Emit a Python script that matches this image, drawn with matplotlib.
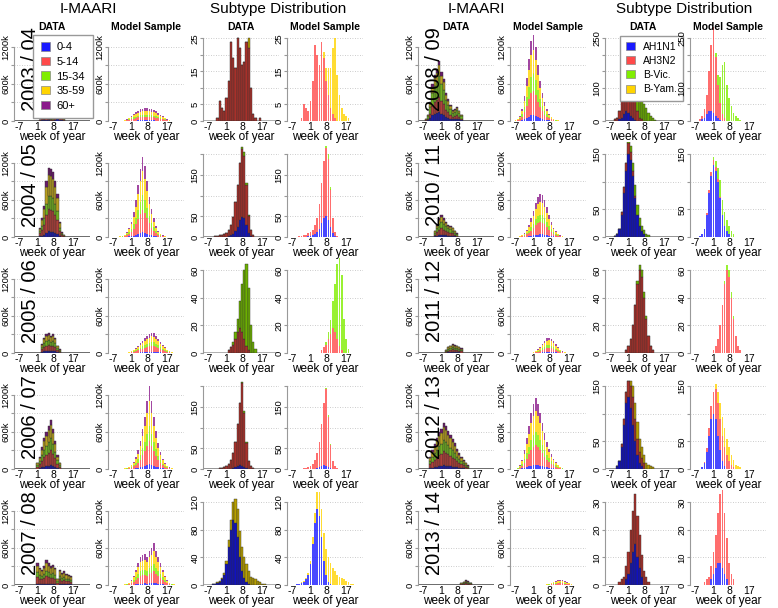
import numpy as np
import matplotlib.pyplot as plt

plt.rcParams['font.family'] = ['Liberation Sans', 'DejaVu Sans']

# ---------------------------------------------------------------- data
seasons_left = ['2003 / 04', '2004 / 05', '2005 / 06', '2006 / 07', '2007 / 08']
seasons_right = ['2008 / 09', '2010 / 11', '2011 / 12', '2012 / 13', '2013 / 14']
age_groups = ['0-4', '5-14', '15-34', '35-59', '60+']
subtypes = ['AH1N1', 'AH3N2', 'B-Vic.', 'B-Yam.']
week_ticks = [-7, 1, 8, 17]

# I-MAARI weekly totals in thousands: (first week, values)
imaari_data = {
    '2003 / 04': (2, [20, 90, 60, 110, 80, 40, 30, 150, 180, 140, 100, 30]),
    '2004 / 05': (2, [150, 300, 500, 900, 1120, 1100, 1050, 900, 700, 250, 80, 30]),
    '2005 / 06': (3, [150, 250, 300, 330, 280, 300, 250, 120, 60]),
    '2006 / 07': (1, [100, 200, 350, 500, 600, 700, 800, 650, 450, 220, 100]),
    '2007 / 08': (1, [350, 280, 250, 300, 400, 350, 300, 330, 280, 100, 250, 200, 220, 180, 170, 150]),
    '2008 / 09': (-6, [30, 100, 300, 600, 750, 850, 980, 800, 680, 450, 350, 260, 180, 200, 230, 170, 100]),
    '2010 / 11': (-2, [100, 200, 300, 350, 300, 250, 200, 180, 150, 100, 60]),
    '2011 / 12': (3, [50, 100, 120, 150, 130, 120, 100, 80]),
    '2012 / 13': (-4, [200, 300, 400, 500, 600, 650, 750, 700, 620, 550, 480, 420, 320, 260, 200, 150, 100, 60]),
    '2013 / 14': (10, [30, 50, 80, 60, 40]),
}
imaari_model = {
    '2003 / 04': (-3, [5, 15, 30, 55, 85, 115, 145, 170, 190, 200, 205, 205, 200, 190, 175, 155, 130, 105, 80, 55, 30, 15, 5]),
    '2004 / 05': (-5, [5, 10, 20, 40, 80, 150, 250, 400, 600, 850, 1100, 1300, 1150, 900, 650, 450, 300, 180, 100, 50, 25, 10]),
    '2005 / 06': (-1, [5, 15, 30, 50, 80, 120, 160, 200, 240, 270, 300, 330, 320, 280, 230, 180, 130, 90, 55, 30, 15, 5]),
    '2006 / 07': (-3, [5, 10, 20, 40, 70, 120, 200, 300, 450, 650, 850, 1100, 1350, 1100, 850, 620, 420, 280, 170, 100, 50, 25, 10]),
    '2007 / 08': (-3, [5, 10, 20, 40, 80, 150, 250, 350, 450, 480, 500, 450, 550, 600, 680, 550, 450, 350, 250, 150, 80, 40, 20, 10]),
    '2008 / 09': (-7, [10, 30, 80, 200, 400, 700, 1000, 1300, 1400, 1200, 900, 650, 450, 300, 200, 120, 70, 40, 20, 10]),
    '2010 / 11': (-5, [10, 30, 60, 120, 200, 300, 420, 550, 650, 700, 680, 600, 480, 350, 240, 150, 90, 50, 25, 10]),
    '2011 / 12': (0, [5, 15, 30, 60, 100, 150, 200, 240, 250, 230, 190, 140, 90, 50, 25, 10]),
    '2012 / 13': (-6, [20, 60, 150, 300, 500, 700, 900, 1050, 1150, 1050, 900, 750, 580, 440, 330, 240, 170, 110, 70, 40, 20]),
    '2013 / 14': (6, [5, 10, 20, 35, 50, 65, 75, 80, 75, 60, 45, 30, 15, 5]),
}
# share of each age group in the I-MAARI stacks
age_share_data = {
    '2003 / 04': [0.15, 0.35, 0.30, 0.15, 0.05],
    '2004 / 05': [0.08, 0.32, 0.20, 0.30, 0.10],
    '2005 / 06': [0.10, 0.30, 0.25, 0.25, 0.10],
    '2006 / 07': [0.08, 0.30, 0.25, 0.27, 0.10],
    '2007 / 08': [0.06, 0.30, 0.22, 0.32, 0.10],
    '2008 / 09': [0.15, 0.25, 0.35, 0.17, 0.08],
    '2010 / 11': [0.10, 0.30, 0.30, 0.22, 0.08],
    '2011 / 12': [0.10, 0.30, 0.25, 0.25, 0.10],
    '2012 / 13': [0.08, 0.30, 0.25, 0.27, 0.10],
    '2013 / 14': [0.10, 0.30, 0.25, 0.25, 0.10],
}
age_share_model = {
    '2003 / 04': [0.05, 0.30, 0.15, 0.30, 0.20],
    '2004 / 05': [0.06, 0.28, 0.18, 0.30, 0.18],
    '2005 / 06': [0.06, 0.30, 0.18, 0.28, 0.18],
    '2006 / 07': [0.06, 0.28, 0.18, 0.30, 0.18],
    '2007 / 08': [0.05, 0.28, 0.17, 0.32, 0.18],
    '2008 / 09': [0.07, 0.28, 0.20, 0.27, 0.18],
    '2010 / 11': [0.06, 0.28, 0.18, 0.30, 0.18],
    '2011 / 12': [0.06, 0.28, 0.18, 0.30, 0.18],
    '2012 / 13': [0.06, 0.28, 0.18, 0.30, 0.18],
    '2013 / 14': [0.06, 0.28, 0.18, 0.30, 0.18],
}

# subtype counts per week: {subtype: (first week, values)}
subtype_data = {
    '2003 / 04': {'AH3N2': (-3, [1, 6, 4, 3, 7, 12, 24, 19, 16, 25, 22, 17, 18, 24, 22, 10, 2, 1, 0, 1]),
                  'B-Yam.': (11, [3])},
    '2004 / 05': {'AH1N1': (2, [2, 4, 8, 15, 25, 40, 48, 45, 30, 10, 3]),
                  'AH3N2': (-6, [1, 1, 2, 3, 5, 6, 8, 10, 15, 25, 40, 70, 100, 140, 165, 150, 95, 40, 15, 5]),
                  'B-Vic.': (8, [5, 10, 5, 3])},
    '2005 / 06': {'AH3N2': (2, [2, 4, 6, 10, 15, 18, 15, 10, 5, 2]),
                  'B-Vic.': (4, [2, 5, 10, 20, 35, 50, 60, 45, 20, 8, 3])},
    '2006 / 07': {'AH1N1': (3, [1, 3, 5, 8, 10, 8, 5, 2]),
                  'AH3N2': (-3, [1, 2, 3, 5, 8, 12, 20, 35, 60, 100, 150, 200, 130, 60, 20, 8, 3]),
                  'B-Vic.': (8, [3, 5, 3])},
    '2007 / 08': {'AH1N1': (-5, [1, 2, 3, 5, 8, 15, 30, 55, 80, 95, 90, 70, 40, 20, 10, 5, 2]),
                  'B-Yam.': (-3, [1, 1, 2, 3, 5, 10, 15, 25, 35, 40, 38, 35, 30, 25, 18, 12, 10, 8, 6, 4, 2, 1])},
    '2008 / 09': {'AH1N1': (-3, [5, 10, 20, 30, 25, 15, 8, 3]),
                  'AH3N2': (-5, [5, 10, 25, 50, 100, 170, 210, 200, 150, 80, 30, 10, 5]),
                  'B-Vic.': (2, [10, 20, 40, 60, 80, 70, 50, 40, 25, 15, 8, 3])},
    '2010 / 11': {'AH1N1': (-5, [2, 5, 15, 40, 80, 120, 150, 140, 110, 70, 40, 20, 10, 5]),
                  'AH3N2': (-2, [5, 10, 15, 20, 15, 10, 5]),
                  'B-Vic.': (1, [5, 10, 15, 20, 18, 15, 10, 8, 5, 3])},
    '2011 / 12': {'AH3N2': (0, [2, 5, 10, 20, 35, 50, 60, 55, 40, 25, 12, 5, 2]),
                  'B-Vic.': (5, [2, 4, 5, 4, 2])},
    '2012 / 13': {'AH1N1': (-4, [5, 15, 40, 80, 120, 130, 110, 80, 50, 25, 10, 5]),
                  'AH3N2': (-2, [5, 10, 20, 30, 40, 50, 40, 30, 20, 15, 10]),
                  'B-Yam.': (2, [10, 20, 30, 30, 25, 20, 15, 10, 8, 5, 3])},
    '2013 / 14': {'AH1N1': (0, [2, 4, 8, 12, 15, 10, 6, 3]),
                  'AH3N2': (-3, [1, 2, 3, 5, 8, 12, 15, 18, 15, 12, 8, 5, 3, 1])},
}
subtype_model = {
    '2003 / 04': {'AH3N2': (-3, [1, 5, 4, 3, 6, 12, 23, 20, 17, 24, 19, 12, 8, 4, 2, 1]),
                  'B-Yam.': (7, [2, 4, 8, 12, 20, 24, 14, 8, 4, 2, 1.5, 1])},
    '2004 / 05': {'AH1N1': (0, [2, 3, 5, 8, 12, 20, 35, 45, 50, 40, 25, 10, 3]),
                  'AH3N2': (-6, [1, 1, 2, 3, 4, 6, 8, 10, 12, 20, 35, 60, 95, 140, 165, 150, 90, 35, 10, 3]),
                  'B-Vic.': (8, [5, 10, 5])},
    '2005 / 06': {'AH3N2': (6, [2, 4, 6, 10, 14, 18, 15, 10, 5, 2]),
                  'B-Vic.': (8, [2, 5, 10, 20, 35, 55, 70, 55, 25, 10, 3])},
    '2006 / 07': {'AH1N1': (3, [1, 3, 5, 8, 10, 8, 5, 2]),
                  'AH3N2': (-3, [1, 2, 3, 5, 8, 12, 20, 35, 60, 100, 150, 185, 120, 55, 20, 8, 3]),
                  'B-Vic.': (8, [3, 5, 3])},
    '2007 / 08': {'AH1N1': (-5, [1, 2, 3, 5, 8, 15, 30, 60, 90, 110, 100, 70, 35, 15, 5, 2]),
                  'B-Yam.': (-3, [1, 1, 2, 3, 5, 10, 15, 25, 35, 40, 40, 38, 35, 30, 25, 20, 15, 12, 10, 8, 6, 4, 2, 1])},
    '2008 / 09': {'AH1N1': (-4, [5, 10, 20, 30, 30, 25, 15, 8, 3]),
                  'AH3N2': (-5, [5, 10, 25, 60, 120, 200, 260, 180, 100, 50, 20, 8]),
                  'B-Vic.': (2, [10, 30, 80, 150, 170, 110, 70, 45, 25, 15, 8, 3])},
    '2010 / 11': {'AH1N1': (-5, [2, 5, 15, 40, 80, 110, 130, 120, 100, 70, 40, 20, 10, 5]),
                  'AH3N2': (-2, [3, 5, 8, 10, 8, 5, 3]),
                  'B-Vic.': (1, [5, 10, 20, 30, 28, 25, 20, 15, 10, 5])},
    '2011 / 12': {'AH3N2': (1, [2, 5, 10, 20, 35, 50, 60, 55, 40, 25, 12, 5, 2]),
                  'B-Vic.': (6, [2, 4, 5, 4, 2])},
    '2012 / 13': {'AH1N1': (-4, [3, 10, 30, 60, 90, 100, 90, 60, 35, 15, 5]),
                  'AH3N2': (-3, [3, 8, 15, 25, 40, 55, 60, 55, 45, 35, 25, 15, 8, 4]),
                  'B-Yam.': (2, [10, 20, 30, 35, 35, 30, 25, 18, 12, 8, 5, 3])},
    '2013 / 14': {'AH1N1': (0, [2, 4, 6, 8, 8, 6, 4, 2]),
                  'AH3N2': (-3, [1, 2, 3, 5, 8, 12, 18, 25, 30, 22, 15, 8, 4, 2])},
}
# y ticks of the subtype panels: (tick positions, labelled ticks)
subtype_ticks = {
    '2003 / 04': ([0, 5, 10, 15, 20, 25], [0, 5, 15, 25]),
    '2004 / 05': ([0, 50, 100, 150, 200], [0, 50, 150]),
    '2005 / 06': ([0, 20, 40, 60], [0, 20, 40, 60]),
    '2006 / 07': ([0, 50, 100, 150, 200], [0, 50, 150]),
    '2007 / 08': ([0, 40, 80, 120], [0, 40, 80, 120]),
    '2008 / 09': ([0, 50, 100, 150, 200, 250], [0, 100, 250]),
    '2010 / 11': ([0, 50, 100, 150], [0, 50, 150]),
    '2011 / 12': ([0, 20, 40, 60], [0, 20, 40, 60]),
    '2012 / 13': ([0, 50, 100, 150], [0, 50, 150]),
    '2013 / 14': ([0, 10, 20, 30], [0, 10, 20, 30]),
}
imaari_ticks = ([0, 300, 600, 900, 1200], [0, 600, 1200])

# ---------------------------------------------------------------- style
age_colors = ['#1a1aff', '#ff4a4a', '#80ee00', '#ffd400', '#8b1a8b']
age_colors_dark = ['#1a1ab0', '#b0403a', '#70b020', '#b8a020', '#6a1a6a']
sub_colors = {'AH1N1': '#1a1aff', 'AH3N2': '#ff4a4a', 'B-Vic.': '#80ee00', 'B-Yam.': '#ffd400'}
sub_colors_dark = {'AH1N1': '#1010c0', 'AH3N2': '#a8302a', 'B-Vic.': '#6cb000', 'B-Yam.': '#b8a000'}

W, H = 778, 608
fig = plt.figure(figsize=(W / 100, H / 100), dpi=100)

col_x = [14, 108, 203, 287, 418, 510, 605, 690]   # left spine, px
panel_w = 76
row_base = [121, 237, 353, 469, 585]                # y of zero line, px
panel_h = 95
xlim = (-9.5, 24.5)


def px_axes(x, ybase):
    return fig.add_axes([x / W, 1 - ybase / H, panel_w / W, panel_h / H])


def style_axes(ax, ticks, labelled, suffix=''):
    ax.set_xlim(*xlim)
    ax.set_xticks(week_ticks)
    ax.set_xticklabels([str(t) for t in week_ticks])
    ax.set_yticks(ticks)
    ax.set_yticklabels([('%g%s' % (t, suffix if t else '')) if t in labelled else ''
                        for t in ticks], rotation=90, va='center')
    for t in ticks:
        ax.axhline(t, color='#bbbbbb', lw=0.6, ls=(0, (1, 2)), zorder=0)
    for s in ['top', 'right', 'bottom']:
        ax.spines[s].set_visible(False)
    ax.spines['left'].set_bounds(ticks[0], ticks[-1])
    ax.spines['left'].set_color('#999999')
    ax.tick_params(axis='x', length=0, labelsize=7.5, pad=1)
    ax.tick_params(axis='y', length=2, color='#999999', labelsize=6.8, pad=0.5)
    ax.set_xlabel('week of year', fontsize=8.5, labelpad=-1)
    ax.patch.set_alpha(0)


def stack_bars(ax, layers, colors, data_style):
    weeks = np.arange(xlim[0] + 0.5, xlim[1])
    bottom = np.zeros(len(weeks))
    for (start, vals), c in zip(layers, colors):
        h = np.zeros(len(weeks))
        idx = np.searchsorted(weeks, start)
        h[idx:idx + len(vals)] = vals
        if data_style:
            ax.bar(weeks, h, bottom=bottom, width=1.0, color=c,
                   edgecolor='#303030', linewidth=0.3, zorder=2)
        else:
            ax.bar(weeks, h, bottom=bottom, width=0.75, color=c,
                   alpha=0.8, linewidth=0, zorder=2)
        bottom = bottom + h


def imaari_panel(x, ybase, season, model):
    ax = px_axes(x, ybase)
    start, total = (imaari_model if model else imaari_data)[season]
    share = (age_share_model if model else age_share_data)[season]
    layers = [(start, [v * s for v in total]) for s in share]
    stack_bars(ax, layers, age_colors if model else age_colors_dark, not model)
    ax.set_ylim(0, 1540)
    style_axes(ax, *imaari_ticks, suffix='k')
    return ax


def subtype_panel(x, ybase, season, model):
    ax = px_axes(x, ybase)
    src = (subtype_model if model else subtype_data)[season]
    cols = sub_colors if model else sub_colors_dark
    layers = [src[s] for s in subtypes if s in src]
    colors = [cols[s] for s in subtypes if s in src]
    stack_bars(ax, layers, colors, not model)
    ticks, labelled = subtype_ticks[season]
    ax.set_ylim(0, ticks[-1] * 1.15)
    style_axes(ax, ticks, labelled)
    return ax


for half, seasons in enumerate([seasons_left, seasons_right]):
    cx = col_x[4 * half:4 * half + 4]
    for r, season in enumerate(seasons):
        yb = row_base[r]
        a0 = imaari_panel(cx[0], yb, season, False)
        a1 = imaari_panel(cx[1], yb, season, True)
        a2 = subtype_panel(cx[2], yb, season, False)
        a3 = subtype_panel(cx[3], yb, season, True)
        a0.text(0.22, 0.55, season, transform=a0.transAxes, rotation=90,
                fontsize=14.5, ha='center', va='center', zorder=5)
        if r == 0:
            if half == 0:
                h = [plt.Rectangle((0, 0), 1, 1, fc=c, ec='#888888', lw=0.5) for c in age_colors]
                leg = a0.legend(h, age_groups, loc='upper left', bbox_to_anchor=(0.25, 0.91),
                                fontsize=8, handlelength=0.8, handleheight=0.8,
                                handletextpad=0.6, borderpad=0.7, labelspacing=0.4,
                                borderaxespad=0, fancybox=False, framealpha=1,
                                edgecolor='#999999')
            else:
                h = [plt.Rectangle((0, 0), 1, 1, fc=sub_colors[s], ec='#888888', lw=0.5) for s in subtypes]
                leg = a2.legend(h, subtypes, loc='upper left', bbox_to_anchor=(0.2, 0.9),
                                fontsize=7.5, handlelength=0.8, handleheight=0.8,
                                handletextpad=0.8, borderpad=0.6, labelspacing=0.4,
                                borderaxespad=0, fancybox=False, framealpha=1,
                                edgecolor='#999999')
            leg.set_zorder(10)
            for x0, t in zip(cx, ['DATA', 'Model Sample', 'DATA', 'Model Sample']):
                fig.text((x0 + 38) / W, 1 - 27 / H, t, ha='center', va='center',
                         fontsize=7.5, fontweight='bold')

fig.text(88 / W, 1 - 9 / H, 'I-MAARI', ha='center', va='center', fontsize=11)
fig.text(278 / W, 1 - 9 / H, 'Subtype Distribution', ha='center', va='center', fontsize=11)
fig.text(476 / W, 1 - 9 / H, 'I-MAARI', ha='center', va='center', fontsize=11)
fig.text(684 / W, 1 - 9 / H, 'Subtype Distribution', ha='center', va='center', fontsize=11)

fig.savefig('out.png', dpi=100)
